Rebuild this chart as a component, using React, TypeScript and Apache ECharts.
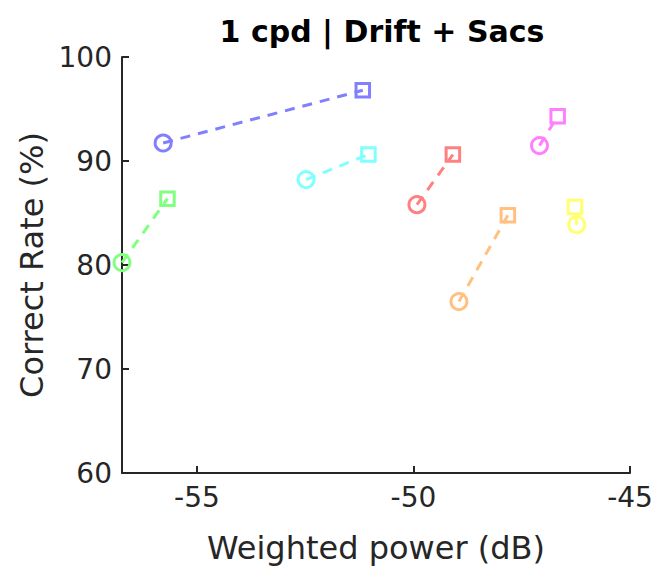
import React, { useEffect, useRef } from "react";
import * as echarts from "echarts";

const titleText = "1 cpd | Drift + Sacs";
const xAxisName = "Weighted power (dB)";
const yAxisName = "Correct Rate (%)";

const groupColors = ["#8080FF", "#80FFFF", "#80FF80", "#FF8080", "#FF80FF", "#FFC080", "#FFFF70"];
// Drift condition (circles)
const driftX = [-55.78, -52.48, -56.73, -49.92, -47.09, -48.95, -46.23];
const driftY = [91.73, 88.21, 80.23, 85.8, 91.48, 76.48, 83.88];
// Drift + Sacs condition (squares)
const sacsX = [-51.17, -51.04, -55.68, -49.09, -46.67, -47.82, -46.27];
const sacsY = [96.8, 90.62, 86.38, 90.62, 94.3, 84.78, 85.58];

const xTicks = [-55, -50, -45];
const yTicks = [60, 70, 80, 90, 100];

const FONT = "DejaVu Sans";
const AXIS_COLOR = "#262626";

export default function App() {
  const ref = useRef<HTMLDivElement>(null);
  useEffect(() => {
    if (!ref.current) return;
    const chart = echarts.init(ref.current, undefined, { renderer: "svg" });
    const series = groupColors.map((c, i) => ({
      type: "line",
      data: [
        { value: [driftX[i], driftY[i]], symbol: "circle", symbolSize: 16 },
        { value: [sacsX[i], sacsY[i]], symbol: "rect", symbolSize: 13.5 },
      ],
      showAllSymbol: true,
      lineStyle: { color: c, width: 3, type: [10, 8] },
      itemStyle: { color: "transparent", borderColor: c, borderWidth: 3 },
      emphasis: { disabled: true },
      z: 2 + i,
    }));
    chart.setOption({
      animation: false,
      backgroundColor: "#ffffff",
      title: {
        text: titleText,
        left: 377,
        top: 11,
        textAlign: "center",
        textStyle: { fontFamily: FONT, fontWeight: "bold", fontSize: 30, color: "#000000" },
      },
      grid: { left: 122, top: 57, width: 508, height: 416, containLabel: false },
      xAxis: {
        type: "value",
        min: -56.73,
        max: -45,
        name: xAxisName,
        nameLocation: "middle",
        nameGap: 59,
        nameTextStyle: { fontFamily: FONT, fontSize: 32, color: AXIS_COLOR },
        axisLine: { show: true, onZero: false, lineStyle: { color: AXIS_COLOR, width: 2 } },
        axisTick: { show: true, inside: true, length: 7, customValues: xTicks, lineStyle: { color: AXIS_COLOR, width: 2 } },
        axisLabel: { customValues: xTicks, fontFamily: FONT, fontSize: 28, color: AXIS_COLOR, margin: 10 },
        splitLine: { show: false },
      },
      yAxis: {
        type: "value",
        min: 60,
        max: 100,
        interval: 10,
        name: yAxisName,
        nameLocation: "middle",
        nameRotate: 90,
        nameGap: 74,
        nameTextStyle: { fontFamily: FONT, fontSize: 32, color: AXIS_COLOR },
        axisLine: { show: true, onZero: false, lineStyle: { color: AXIS_COLOR, width: 2 } },
        axisTick: { show: true, inside: true, length: 7, customValues: yTicks, lineStyle: { color: AXIS_COLOR, width: 2 } },
        axisLabel: { customValues: yTicks, fontFamily: FONT, fontSize: 28, color: AXIS_COLOR, margin: 10 },
        splitLine: { show: false },
      },
      series,
    });
    return () => chart.dispose();
  }, []);
  return (
    <div
      ref={ref}
      style={{ position: "absolute", left: 0, top: 0, width: 656, height: 569 }}
    />
  );
}
